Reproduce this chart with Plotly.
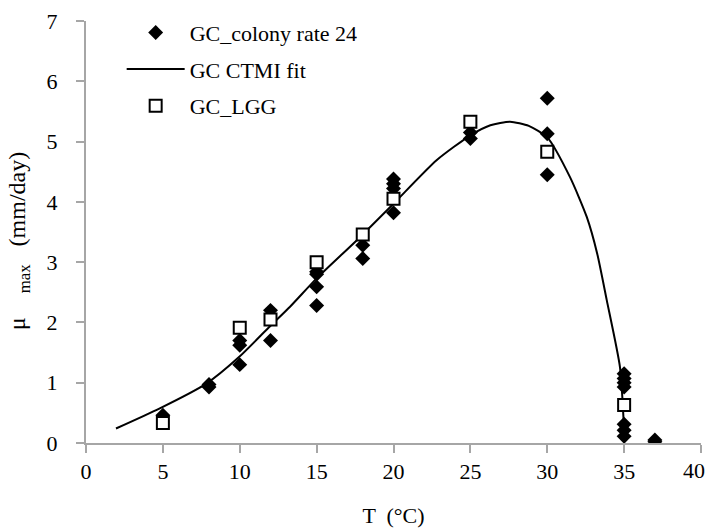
import plotly.graph_objects as go

# Data
colony_T = [5, 8, 8, 10, 10, 10, 12, 12, 15, 15, 15, 15, 18, 18, 20, 20, 20, 20,
            25, 25, 30, 30, 30, 35, 35, 35, 35, 35, 35, 35, 37, 37]
colony_mu = [0.46, 0.93, 0.97, 1.70, 1.62, 1.30, 2.20, 1.70, 2.84, 2.80, 2.59, 2.28,
             3.28, 3.06, 4.38, 4.30, 4.22, 3.82, 5.15, 5.05, 5.72, 5.13, 4.45,
             1.15, 1.07, 1.00, 0.93, 0.31, 0.21, 0.11, 0.05, 0.02]

lgg_T = [5, 10, 12, 15, 18, 20, 25, 30, 35]
lgg_mu = [0.33, 1.91, 2.05, 3.00, 3.46, 4.05, 5.33, 4.83, 0.63]

fit_T = [1.95, 4.77, 7.8, 9.97, 11.9, 13.27, 15.0, 17.6, 20.0, 22.8, 24.98,
         26.3, 27.58, 28.8, 30.0, 31.48, 32.57, 33.25, 33.87, 34.73, 35.0]
fit_mu = [0.24, 0.57, 0.98, 1.43, 1.92, 2.26, 2.73, 3.36, 3.97, 4.69, 5.10,
          5.27, 5.33, 5.26, 5.07, 4.41, 3.75, 3.14, 2.37, 1.26, 0.20]

x_ticks = [0, 5, 10, 15, 20, 25, 30, 35, 40]
x_ticklabels = ["0", "5", "10", "15", "20", "25", "30", "35", "40"]
y_ticks = [0, 1, 2, 3, 4, 5, 6, 7]

FONT = "Liberation Serif"
FS = 22
AXIS_GREY = "#a6a6a6"
NB = "\u00a0"

fig = go.Figure()
fig.add_trace(go.Scatter(
    x=colony_T, y=colony_mu, mode="markers", name="GC_colony rate 24",
    legendgroup="a",
    marker=dict(symbol="diamond", size=11.5, color="black", line=dict(width=0)),
))
fig.add_trace(go.Scatter(
    x=fit_T, y=fit_mu, mode="lines", name="GC CTMI fit", legendgroup="b",
    line=dict(color="black", width=2, shape="spline", smoothing=0.6),
))
fig.add_trace(go.Scatter(
    x=lgg_T, y=lgg_mu, mode="markers", name="GC_LGG", legendgroup="c",
    marker=dict(symbol="square", size=12, color="white",
                line=dict(color="black", width=2)),
))

# the last tick label sits inside the right edge, as in the reference
fig.add_annotation(x=x_ticks[-1], y=0, xref="x", yref="y", text=x_ticklabels[-1],
                   showarrow=False, xanchor="center", yanchor="top",
                   xshift=-7, yshift=-13,
                   font=dict(family=FONT, size=FS, color="black"))

fig.update_layout(
    width=709, height=528,
    margin=dict(l=86, r=8, t=21, b=85, autoexpand=False),
    paper_bgcolor="white", plot_bgcolor="white",
    font=dict(family=FONT, size=FS, color="black"),
    showlegend=True,
    legend=dict(x=0.058, y=1.022, xanchor="left", yanchor="top",
                bgcolor="rgba(0,0,0,0)", font=dict(family=FONT, size=FS),
                traceorder="grouped", tracegroupgap=5, itemwidth=58),
    xaxis=dict(
        range=[0, 40], tickvals=x_ticks, ticktext=x_ticklabels[:-1] + [""],
        showgrid=False, zeroline=False, showline=True, linecolor=AXIS_GREY,
        linewidth=2, ticks="outside", ticklen=8, tickwidth=2, tickcolor=AXIS_GREY,
        ticklabelstandoff=0, automargin=False,
        title=dict(text="T  (°C)", standoff=40, font=dict(family=FONT, size=FS)),
    ),
    yaxis=dict(
        range=[0, 7], tickvals=y_ticks, ticktext=[str(v) for v in y_ticks],
        showgrid=False, zeroline=False, showline=True, linecolor=AXIS_GREY,
        linewidth=2, ticks="outside", ticklen=8, tickwidth=2, tickcolor=AXIS_GREY,
        ticklabelstandoff=14, automargin=False,
        title=dict(text="μ" + NB * 4 + "<sub>max</sub>" + NB * 3 + "(mm/day)"
                   + NB * 3 + "\u200b",
                   standoff=14, font=dict(family=FONT, size=24)),
    ),
)

fig.write_html("out.html", config={"displayModeBar": False},
               post_script="document.body.style.margin='0';")
